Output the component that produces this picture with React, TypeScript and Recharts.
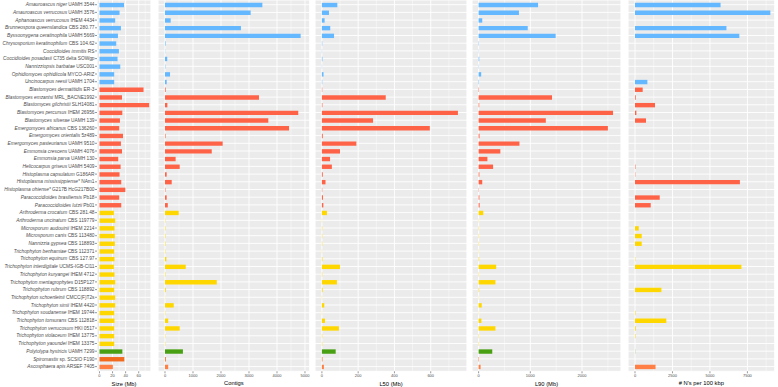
import { BarChart, Bar, XAxis, YAxis, CartesianGrid, Cell } from 'recharts'

const species = [
  'Amauroascus niger', 'Amauroascus verrucosus', 'Aphanoascus verrucosus', 'Brunneospora queenslandica',
  'Byssoonygena ceratinophila', 'Chrysosporium keratinophilum', 'Coccidioides immitis', 'Coccidioides posadasii',
  'Nannizziopsis barbatae', 'Ophidiomyces ophidiicola', 'Uncinocarpus reesii',
  'Blastomyces dermatitidis', 'Blastomyces emzantsi', 'Blastomyces gilchristii', 'Blastomyces percursus',
  'Blastomyces silverae', 'Emergomyces africanus', 'Emergomyces orientalis', 'Emergomyces pasteurianus',
  'Emmonsia crescens', 'Emmonsia parva', 'Helicocarpus griseus', 'Histoplasma capsulatum',
  'Histoplasma mississippiense*', 'Histoplasma ohiense*', 'Paracoccidioides brasiliensis', 'Paracoccidioides lutzii',
  'Arthroderma crocatum', 'Arthroderma uncinatum', 'Microsporum audouinii', 'Microsporum canis',
  'Nannizzia gypsea', 'Trichophyton benhamiae', 'Trichophyton equinum', 'Trichophyton interdigitale',
  'Trichophyton kuryangei', 'Trichophyton mentagrophytes', 'Trichophyton rubrum', 'Trichophyton schoenleinii',
  'Trichophyton simii', 'Trichophyton soudanense', 'Trichophyton tonsurans', 'Trichophyton verrucosum',
  'Trichophyton violaceum', 'Trichophyton yaoundei',
  'Polytolypa hystricis', 'Spiromastix', 'Ascosphaera apis',
]

const strains = [
  'UAMH 3544', 'UAMH 3576', 'IHEM 4434', 'CBS 280.77', 'UAMH 5669', 'CBS 104.62', 'RS', 'C735 delta SOWgp',
  'USC001', 'MYCO-ARIZ', 'UAMH 1704',
  'ER-3', 'MRL_BACNE1992', 'SLH14081', 'IHEM 26956', 'UAMH 139', 'CBS 136260', '5z489', 'UAMH 9510',
  'UAMH 4076', 'UAMH 130', 'UAMH 5409', 'G186AR', 'NAm1', 'G217B HcG217B00', 'Pb18', 'Pb01',
  'CBS 281.48', 'CBS 119779', 'IHEM 2214', 'CBS 113480', 'CBS 118893', 'CBS 112371', 'CBS 127.97',
  'UCMS-IGB-CI11', 'IHEM 4712', 'D15P127', 'CBS 118892', 'CMCC(F)T2s', 'IHEM 4420', 'IHEM 19744',
  'CBS 112818', 'HKI 0517', 'IHEM 13775', 'IHEM 13375',
  'UAMH 7299', 'sp.  SCSIO F190', 'ARSEF 7405',
]

const clades = [
  ...Array(11).fill('Onygenaceae'),
  ...Array(16).fill('Ajellomycetaceae'),
  ...Array(18).fill('Arthrodermataceae'),
  'Polytolypa', 'Spiromastix', 'Ascosphaera',
]

const sizeMb = [
  37.5, 30.7, 24, 32.8, 28.2, 25.6, 29.7, 27.6, 31.8, 22.5, 22.5,
  67.4, 34.4, 76, 34.9, 31.3, 30.2, 36, 32.8, 34.4, 28.7, 32.3, 30.7, 33.3, 39.5, 30.2, 33.3,
  22, 24, 23, 23.5, 23.5, 22.5, 23, 22, 23, 24, 22.5, 24, 24, 22.5, 23, 22.5, 22.5, 22.5,
  35, 38, 20.5,
]

const contigs = [
  3477, 3060, 203, 2713, 4845, 20, 6, 80, 12, 180, 60,
  25, 3357, 85, 4760, 3690, 4430, 20, 2060, 1670, 380, 525, 60, 240, 15, 60, 100,
  490, 10, 15, 15, 15, 12, 50, 740, 15, 1850, 28, 5, 312, 10, 114, 525, 10, 10,
  640, 28, 114,
]

const l50 = [
  85, 39, 15, 46, 67, 2, 1, 3, 1, 9, 2,
  2, 352, 3, 750, 282, 595, 5, 190, 100, 45, 55, 5, 20, 2, 6, 8,
  28, 1, 2, 2, 2, 1, 3, 100, 2, 83, 4, 1, 13, 1, 17, 94, 2, 2,
  76, 3, 11,
]

const l90 = [
  1150, 780, 70, 950, 1490, 6, 3, 12, 4, 50, 8,
  8, 1420, 12, 2600, 1300, 2500, 18, 790, 420, 170, 280, 15, 70, 5, 15, 20,
  90, 4, 6, 6, 6, 4, 10, 340, 6, 325, 10, 3, 60, 3, 53, 325, 6, 6,
  264, 8, 38,
]

const nsPer100kbp = [
  5710, 9030, 0, 6100, 6960, 0, 0, 0, 0, 0, 825,
  513, 50, 1333, 93, 733, 0, 0, 0, 0, 0, 30, 20, 7000, 0, 1650, 1050,
  0, 0, 250, 450, 450, 0, 20, 7100, 0, 0, 1760, 0, 0, 30, 2090, 50, 30, 0,
  10, 0, 1370,
]

const cladeColor: Record<string, string> = {
  Onygenaceae: '#63B8FF',
  Ajellomycetaceae: '#FF6347',
  Arthrodermataceae: '#FFD700',
  Polytolypa: '#48A012',
  Spiromastix: '#F26A1E',
  Ascosphaera: '#FF7F45',
}

const rows = species.map((s, i) => ({
  name: `${s} ${strains[i]}`,
  species: s,
  strain: strains[i],
  clade: clades[i],
  size: sizeMb[i],
  contigs: contigs[i],
  l50: l50[i],
  l90: l90[i],
  ns: nsPer100kbp[i],
}))

const FONT = '"Liberation Sans", Arial, sans-serif'
const H = 387
const AXIS_H = 15.7

const panels = [
  { key: 'size', title: 'Size (Mb)', left: 0, width: 151, axisW: 97, domain: [-3.8, 78.8], ticks: [0, 20, 40, 60], minor: [10, 30, 50, 70] },
  { key: 'contigs', title: 'Contigs', left: 158.3, width: 151.7, axisW: 0, domain: [-250, 5168], ticks: [0, 1000, 2000, 3000, 4000, 5000], minor: [500, 1500, 2500, 3500, 4500] },
  { key: 'l50', title: 'L50 (Mb)', left: 315, width: 152, axisW: 0, domain: [-38, 800], ticks: [0, 200, 400, 600], minor: [100, 300, 500, 700] },
  { key: 'l90', title: 'L90 (Mb)', left: 471.7, width: 149, axisW: 0, domain: [-128, 2754], ticks: [0, 1000, 2000], minor: [500, 1500, 2500] },
  { key: 'ns', title: "# N's per 100 kbp", left: 628.3, width: 146.7, axisW: 0, domain: [-467, 9320], ticks: [0, 2500, 5000, 7500], minor: [1250, 3750, 6250, 8750] },
]

function SpeciesTick({ x, y, payload }: any) {
  const row = rows.find(r => r.name === payload.value)
  if (!row) return null
  return (
    <text x={x} y={y} dy="0.35em" textAnchor="end" fontSize={4.8} fill="#4D4D4D" fontFamily={FONT}>
      <tspan fontStyle="italic">{row.species}</tspan>
      <tspan>{' ' + row.strain}</tspan>
    </text>
  )
}

function Panel({ p }: { p: (typeof panels)[number] }) {
  const labels = p.axisW > 0
  return (
    <div style={{ position: 'absolute', left: p.left, top: 0 }}>
      <BarChart width={p.width} height={H} data={rows} layout="vertical" margin={{ top: 0, right: 0, bottom: 0, left: 0 }}>
        <CartesianGrid fill="#EBEBEB" fillOpacity={1} stroke="#FFFFFF" strokeWidth={0.9} xAxisId="major" />
        <CartesianGrid stroke="#FFFFFF" strokeWidth={0.45} horizontal={false} xAxisId="minor" />
        <YAxis
          type="category"
          dataKey="name"
          width={p.axisW}
          hide={!labels}
          interval={0}
          axisLine={false}
          tickSize={2}
          tickMargin={0.5}
          tickLine={{ stroke: '#333333', strokeWidth: 0.5 }}
          tick={<SpeciesTick />}
          padding={{ top: 0.85, bottom: 0.85 }}
        />
        <XAxis
          xAxisId="major"
          type="number"
          domain={p.domain}
          ticks={p.ticks}
          allowDataOverflow
          interval={0}
          axisLine={false}
          tickSize={2}
          tickMargin={0.5}
          tickLine={{ stroke: '#333333', strokeWidth: 0.5 }}
          tick={{ fontSize: 4, fill: '#4D4D4D', fontFamily: FONT }}
          height={AXIS_H}
          label={{ value: p.title, position: 'insideBottom', offset: 1.5, fontSize: 5.8, fill: '#000000', fontFamily: FONT }}
        />
        <XAxis xAxisId="minor" type="number" domain={p.domain} ticks={p.minor} allowDataOverflow hide />
        <Bar dataKey={p.key} xAxisId="major" barSize={4.4} isAnimationActive={false}>
          {rows.map(r => (
            <Cell key={r.name} fill={cladeColor[r.clade]} />
          ))}
        </Bar>
      </BarChart>
    </div>
  )
}

export default function App() {
  return (
    <div style={{ position: 'absolute', left: 0, top: 0, width: 778, height: H, background: '#FFFFFF', overflow: 'hidden' }}>
      {panels.map(p => (
        <Panel key={p.key} p={p} />
      ))}
    </div>
  )
}
